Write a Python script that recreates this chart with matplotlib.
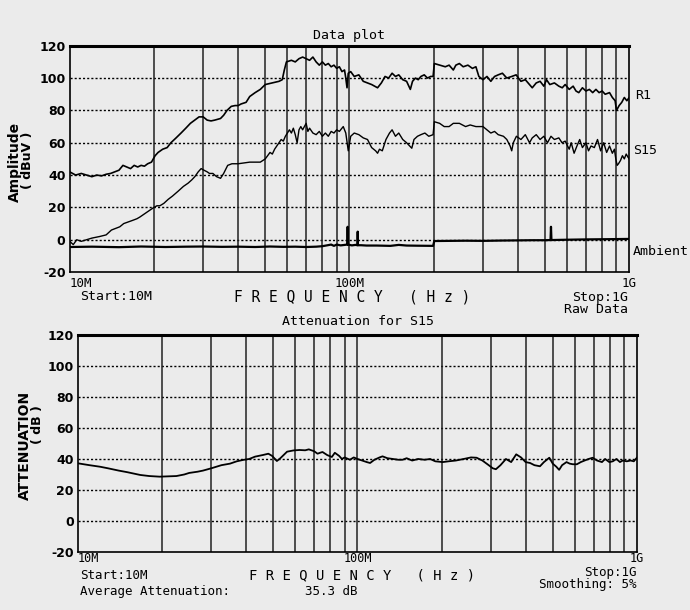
import matplotlib.pyplot as plt
import numpy as np

# ---- data (frequencies in MHz) ----
r1_mhz = [10, 10.5, 11, 11.5, 12, 12.5, 13, 13.5, 14, 14.5, 15, 15.5, 16, 16.5, 17, 17.5, 18, 18.5, 19, 19.6,
          20.2, 20.7, 21.5, 22.3, 23, 24, 25, 26, 27, 28, 29, 30, 31, 32, 33, 34.6, 35.5, 36.5, 37.8, 39,
          40, 41, 42.7, 44, 46, 48, 50, 53, 56, 57.5, 58.5, 59.5, 62, 64, 66, 68, 70, 72, 74, 76,
          78, 80, 82, 84, 86, 88, 90, 92, 94, 96, 97, 98, 99, 101, 104, 108, 112, 116, 120, 126,
          130, 134, 138, 142, 146, 150, 155, 160, 165, 168, 172, 176, 180, 185, 190, 195, 199, 201, 210, 220,
          227, 235, 240, 247, 255, 265, 275, 283, 290, 300, 310, 320, 330, 340, 352, 365, 380, 394, 410, 425,
          440, 450, 465, 480, 495, 506, 520, 540, 560, 576, 590, 610, 630, 645, 660, 680, 700, 720, 740, 760,
          780, 800, 820, 850, 870, 890, 900, 920, 940, 960, 980, 1000]
r1_db = [42, 40, 41, 40, 39, 40, 39.5, 40.5, 41, 42, 43, 46, 45, 44, 46, 45, 46, 45.5, 47, 48,
         52, 54, 56, 57, 60, 63, 66, 69, 72, 74, 76, 76, 74, 73.5, 74, 75, 77, 80, 82.5, 83,
         83, 84, 85, 88.6, 91, 93, 96, 97, 98, 99, 105, 110, 111, 110, 112, 113, 112, 111, 113, 110,
         108, 110, 108, 109, 107, 108, 106, 107, 104, 105, 100, 94, 103, 104, 101, 102, 98, 97, 96, 94,
         97, 101, 100, 103, 101, 102, 99, 98, 93, 98, 100, 99, 101, 102, 100, 101, 101, 109, 108, 107,
         108, 105, 108, 109, 107, 108, 106, 107, 101, 99, 101, 98, 101, 102, 103, 100, 101, 102, 98, 99,
         96, 94, 97, 98, 95, 99, 96, 97, 95, 94, 96, 93, 95, 92, 91, 94, 92, 93, 91, 93,
         91, 92, 90, 91, 88, 86, 80, 83, 85, 88, 86, 88]

s15_mhz = [10, 10.3, 10.6, 11, 11.5, 12, 12.8, 13.5, 14.1, 14.6, 15.1, 15.6, 16.2, 16.8, 17.4, 17.8, 18.5, 19.2, 20, 20.5,
           21, 21.7, 22.5, 23.3, 24.4, 25.5, 26.5, 27.3, 28, 28.8, 29.5, 30.2, 31, 31.6, 32.5, 33.5, 34.6, 35.5, 36.7, 38,
           40, 42.7, 44, 46, 48, 50, 51, 52, 53, 54, 55, 57, 58, 59, 61, 62, 63, 64, 65, 66,
           67, 68, 70, 71, 72, 74, 76, 78, 80, 82, 84, 86, 88, 90, 92, 95, 97, 99, 101, 104,
           108, 112, 116, 120, 124, 126, 128, 131, 135, 139, 142, 146, 150, 155, 160, 164, 167, 170, 175, 180,
           186, 192, 199, 201, 210, 218, 227, 235, 247, 260, 270, 283, 300, 310, 320, 330, 340, 355, 365, 375,
           380, 385, 395, 410, 425, 440, 450, 465, 480, 495, 510, 525, 540, 560, 575, 590, 610, 620, 635, 650,
           665, 680, 700, 715, 730, 750, 770, 790, 810, 830, 850, 870, 885, 895, 905, 915, 930, 945, 960, 975,
           990, 1000]
s15_db = [-1, -3, 0, -1, 0, 1, 2, 3, 6, 7, 8, 10, 11, 12, 13, 14, 16, 18, 20, 21,
          21, 22.5, 25, 27, 30, 33, 35, 37, 39, 42, 44, 43, 42, 41, 41, 39, 38, 41, 46, 47,
          47, 47.7, 48, 48, 48, 50, 52, 54, 53, 56, 58, 62, 61, 64, 68, 66, 69, 65, 60, 68,
          70, 68, 72, 67, 69, 66, 65, 67, 64, 66, 64, 67, 66, 68, 67, 70, 66, 55, 64, 66,
          65, 63, 62, 57, 55, 53.5, 56, 55, 62, 66, 68, 64, 66, 62, 60, 58, 56.6, 62, 64, 65,
          66, 64, 65, 73, 72, 70, 70, 72, 72, 70, 71, 70, 70, 68, 66, 67, 65, 64, 62, 58,
          55, 60, 64, 62, 65, 60, 63, 65, 62, 64, 60, 64, 62, 63, 60, 61, 56, 60, 53.5, 58,
          62, 57, 60, 55, 58, 57, 62, 55, 60, 54, 58, 53.5, 56, 50, 46, 47, 49, 52, 50, 53,
          51, 50]

amb_mhz = [10, 12, 15, 18, 22, 26, 30, 35, 40, 46, 52, 58, 64, 70, 76, 80, 83, 86, 88, 90,
           93, 98.2, 98.5, 98.8, 102, 105, 106.8, 107, 107.2, 110, 115, 125, 140, 150, 160, 175, 199, 201, 230, 260,
           300, 350, 400, 450, 500, 523, 525, 527, 560, 600, 700, 800, 900, 1000]
amb_db = [-4.5, -4.3, -4.6, -4.2, -4.5, -4.3, -4.2, -4.4, -4.3, -4.5, -4.2, -4.4, -4.3, -4.5, -4.3, -4.0, -3.5, -3.0, -3.8, -3.0,
          -3.5, -3.0, 8, -3.0, -3.5, -3.2, -3.4, 5, -3.4, -3.4, -3.6, -3.6, -3.8, -3.2, -3.6, -3.7, -3.8, -0.8, -0.7, -0.6,
          -0.7, -0.5, -0.4, -0.3, -0.3, -0.2, 8, -0.2, -0.1, 0, 0.2, 0.3, 0.4, 0.5]

att_mhz = [10, 11, 12, 12.8, 14, 15, 16.7, 18, 19.6, 21, 22.5, 24, 25, 26.8, 28, 30, 32.6, 35, 37, 39,
           41, 43, 46, 48, 49.5, 51.5, 53, 56, 59, 62, 65, 67, 70, 72, 73.5, 75, 78, 81, 83, 86,
           88, 90, 94, 97, 100, 104, 108, 111, 115, 120, 123, 128, 134, 140, 145, 150, 157, 165, 174, 182,
           190, 202, 212, 225, 240, 255, 267, 280, 295, 305, 313, 325, 340, 355, 370, 385, 400, 415, 430, 450,
           465, 486, 500, 515, 527, 540, 560, 575, 590, 610, 630, 650, 672, 695, 720, 750, 770, 797, 820, 845,
           870, 890, 920, 950, 975, 1000]
att_db = [37.2, 36, 35, 34, 32.5, 31.5, 29.7, 29, 28.6, 28.8, 29, 30, 31, 31.8, 32.5, 34, 36, 37, 38.5, 39.4,
          40, 41.5, 42.6, 43.4, 42, 38.7, 40.5, 44.7, 45.5, 45.8, 45.6, 46.2, 45, 43.4, 44, 44.5, 42.5, 41.3, 44, 42,
          40, 41, 39.5, 41, 40, 39, 38, 37.4, 39.5, 41, 41.7, 40.5, 40, 39.5, 39.5, 40.5, 39, 40, 39.5, 40,
          38.5, 38, 38.5, 39, 40, 41, 40.8, 39, 36, 34, 33.4, 36, 40, 38, 43, 41, 38, 37.4, 36, 35.3,
          38, 40.8, 37, 35, 33, 36, 38, 37, 36.6, 36.6, 38, 39, 40, 40.8, 39, 38, 40, 38, 38.5, 40,
          38, 39, 38.5, 39, 38.5, 40.8]

y_ticks = [-20, 0, 20, 40, 60, 80, 100, 120]
grid_mult = [2, 3, 4, 5, 6, 7, 8, 9]

BG = '#ebebeb'
MONO = 'DejaVu Sans Mono'


def setup_axes(ax):
    ax.set_facecolor(BG)
    ax.set_xscale('log')
    ax.set_xlim(1e7, 1e9)
    ax.set_ylim(-20, 120)
    ax.set_yticks(y_ticks)
    ax.set_yticklabels([str(v) for v in y_ticks], fontsize=9, fontweight='bold')
    ax.tick_params(axis='y', length=0, pad=3)
    ax.set_xticks([])
    ax.set_xticks([], minor=True)
    for v in y_ticks[1:-1]:
        ax.axhline(v, color='black', lw=1.0, ls=(0, (1.5, 1.5)), zorder=1)
    for dec in [1e7, 1e8]:
        for m in grid_mult:
            ax.axvline(m * dec, color='#222222', lw=1.1, zorder=1)
    ax.axvline(1e8, color='#222222', lw=1.1, zorder=1)
    for s in ['left', 'right', 'bottom']:
        ax.spines[s].set_linewidth(1.2)
    ax.spines['top'].set_linewidth(2.2)


def freq_labels(ax, y, size=9):
    tr = ax.get_xaxis_transform()
    ax.text(1e7, y, '10M', transform=tr, ha='left', va='center', family=MONO, fontsize=size)
    ax.text(1e8, y, '100M', transform=tr, ha='center', va='center', family=MONO, fontsize=size)
    ax.text(1e9, y, '1G', transform=tr, ha='center', va='center', family=MONO, fontsize=size)


fig = plt.figure(figsize=(6.9, 6.1), dpi=100)
fig.patch.set_facecolor(BG)

# ---- top panel: raw data ----
ax1 = fig.add_axes([0.101, 0.554, 0.811, 0.371])
setup_axes(ax1)
ax1.plot(np.array(r1_mhz) * 1e6, r1_db, color='black', lw=1.2, zorder=3)
ax1.plot(np.array(s15_mhz) * 1e6, s15_db, color='black', lw=1.0, zorder=3)
ax1.plot(np.array(amb_mhz) * 1e6, amb_db, color='black', lw=1.6, zorder=3)

ax1.text(0.499, 1.045, 'Data plot', transform=ax1.transAxes, ha='center', va='center',
         family=MONO, fontsize=9.5)
freq_labels(ax1, -0.05)
ax1.text(0.018, -0.11, 'Start:10M', transform=ax1.transAxes, ha='left', va='center',
         family=MONO, fontsize=9.5)
ax1.text(0.505, -0.11, 'F R E Q U E N C Y   ( H z )', transform=ax1.transAxes, ha='center',
         va='center', family=MONO, fontsize=10.5)
ax1.text(0.998, -0.083, 'Stop:1G\nRaw Data', transform=ax1.transAxes, ha='right', va='top',
         family=MONO, fontsize=9.5, linespacing=0.95, multialignment='right')
ytr = ax1.get_yaxis_transform()
ax1.text(1.01, 89.5, 'R1', transform=ytr, ha='left', va='center', family=MONO, fontsize=9.5)
ax1.text(1.007, 55.5, 'S15', transform=ytr, ha='left', va='center', family=MONO, fontsize=9.5)
ax1.text(1.007, -7, 'Ambient', transform=ytr, ha='left', va='center', family=MONO, fontsize=9.5)

fig.text(15 / 690, 1 - 162 / 610, 'Amplitude', rotation=90, ha='center', va='center',
         fontsize=10, fontweight='bold')
fig.text(28 / 690, 1 - 160 / 610, '( dBuV )', rotation=90, ha='center', va='center',
         fontsize=9, fontweight='bold')

# ---- bottom panel: attenuation ----
ax2 = fig.add_axes([0.113, 0.095, 0.810, 0.356])
setup_axes(ax2)
ax2.plot(np.array(att_mhz) * 1e6, att_db, color='black', lw=1.3, zorder=3)

ax2.text(0.501, 1.06, 'Attenuation for S15', transform=ax2.transAxes, ha='center', va='center',
         family=MONO, fontsize=9.5)
freq_labels(ax2, -0.032, size=8.5)
ax2.text(0.004, -0.106, 'Start:10M', transform=ax2.transAxes, ha='left', va='center',
         family=MONO, fontsize=9)
ax2.text(0.004, -0.183, 'Average Attenuation:          35.3 dB', transform=ax2.transAxes,
         ha='left', va='center', family=MONO, fontsize=9)
ax2.text(0.508, -0.108, 'F R E Q U E N C Y   ( H z )', transform=ax2.transAxes, ha='center',
         va='center', family=MONO, fontsize=10)
ax2.text(1.0, -0.065, 'Stop:1G\nSmoothing: 5%', transform=ax2.transAxes, ha='right', va='top',
         family=MONO, fontsize=9, linespacing=0.9, multialignment='right')

fig.text(25 / 690, 1 - 445 / 610, 'ATTENUATION', rotation=90, ha='center', va='center',
         fontsize=10, fontweight='bold')
fig.text(38 / 690, 1 - 425 / 610, '( dB )', rotation=90, ha='center', va='center',
         fontsize=9, fontweight='bold')

fig.savefig('out.png', dpi=100, facecolor=BG)
